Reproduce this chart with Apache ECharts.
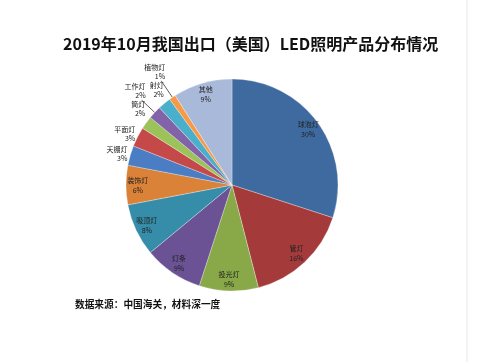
<!DOCTYPE html>
<html><head><meta charset="utf-8">
<script src="https://cdn.jsdelivr.net/npm/echarts@6/dist/echarts.min.js"></script>
<style>html,body{margin:0;padding:0;background:#fff}#c{width:477px;height:362px}</style>
</head><body><div id="c"></div>
<script>
const titleText = '2019年10月我国出口（美国）LED照明产品分布情况';
const sourceText = '数据来源：中国海关，材料深一度';
const categories = ['球泡灯','管灯','投光灯','灯条','吸顶灯','装饰灯','天棚灯','平面灯','筒灯','工作灯','射灯','植物灯','其他'];
const values = [30,16,9,9,8,6,3,3,2,2,2,1,9];
const colors = ['#3E6A9F','#A43B3A','#89A948','#6A5294','#368DAA','#DB8239','#4A7DC4','#C6494A','#9CC25A','#8263A8','#4AAFCB','#F79A47','#A9B9DA'];
// outside label styling: [radial line length, horizontal line length, distance to line, blank lines below text]
const outsideLabels = {'天棚灯':[6,0,-3,0],'平面灯':[6,0,-3,0],'筒灯':[16,0,-12,1],'工作灯':[18,0,-4,2],'射灯':[12,0,-7,1],'植物灯':[20,0,-4,2]};
const leaderLabels = ['工作灯','植物灯'];

const center = [232, 185];
const R = 106;
const font = '"Noto Sans CJK SC", sans-serif';

const pieData = categories.map((n,i)=>{
  const o = outsideLabels[n];
  return {
    name:n, value:values[i],
    itemStyle:{color:colors[i]},
    label: o ? {show:true, distanceToLabelLine:o[2],
                formatter:p=>p.name+'\n'+p.value+'%'+'\n '.repeat(o[3])} : {show:false},
    labelLine: o ? {show: leaderLabels.includes(n), length:o[0], length2:o[1]} : {show:false}
  };
});
const innerData = categories.map((n,i)=>({
  name:n, value:values[i],
  label:{show: !outsideLabels[n]}
}));

const chart = echarts.init(document.getElementById('c'));
chart.setOption({
  backgroundColor:'#fff',
  animation:false,
  title:{
    text:titleText, left:58, top:31,
    textStyle:{fontFamily:font, fontSize:16, fontWeight:'bold', color:'#111'}
  },
  graphic:[
    {type:'text', left:75, top:299, style:{text:sourceText, font:'bold 9.7px '+font, fill:'#111'}},
    {type:'line', shape:{x1:467,y1:0,x2:467,y2:362}, style:{stroke:'#e6e6e6', lineWidth:1}}
  ],
  series:[
    {
      type:'pie', center:center, radius:[0,R], startAngle:90, clockwise:true,
      avoidLabelOverlap:false,
      labelLayout:{hideOverlap:false},
      itemStyle:{borderColor:'rgba(255,255,255,0.5)', borderWidth:0.6},
      label:{position:'outside', fontSize:7, lineHeight:9, color:'#222', fontFamily:font, align:'center'},
      labelLine:{lineStyle:{color:'#333', width:0.8}},
      data:pieData
    },
    {
      type:'pie', center:center, radius:[0.72*R,R], startAngle:90, clockwise:true, silent:true,
      labelLayout:{hideOverlap:false},
      itemStyle:{color:'rgba(0,0,0,0)'},
      label:{position:'inside', formatter:p=>p.name+'\n'+p.value+'%', fontSize:7, lineHeight:10, color:'#222', fontFamily:font},
      labelLine:{show:false},
      data:innerData
    }
  ]
});
</script></body></html>
